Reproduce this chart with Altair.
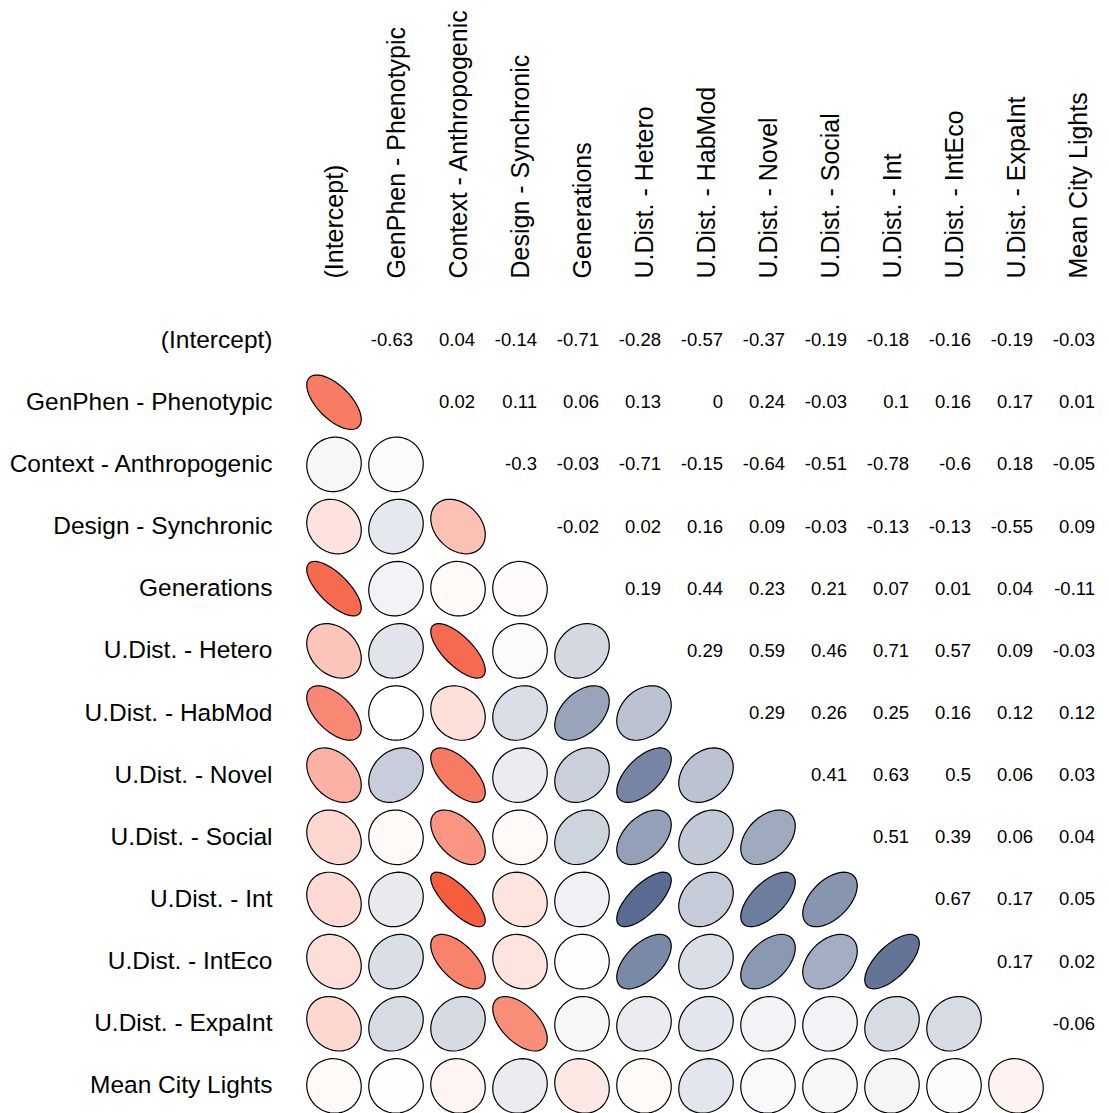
import altair as alt
import numpy as np
import pandas as pd

variables = [
    "(Intercept)", "GenPhen - Phenotypic", "Context - Anthropogenic",
    "Design - Synchronic", "Generations", "U.Dist. - Hetero",
    "U.Dist. - HabMod", "U.Dist. - Novel", "U.Dist. - Social",
    "U.Dist. - Int", "U.Dist. - IntEco", "U.Dist. - ExpaInt",
    "Mean City Lights",
]

# Upper-triangle correlations, row by row (values right of the diagonal)
upper_rows = [
    [-0.63, 0.04, -0.14, -0.71, -0.28, -0.57, -0.37, -0.19, -0.18, -0.16, -0.19, -0.03],
    [0.02, 0.11, 0.06, 0.13, 0, 0.24, -0.03, 0.1, 0.16, 0.17, 0.01],
    [-0.3, -0.03, -0.71, -0.15, -0.64, -0.51, -0.78, -0.6, 0.18, -0.05],
    [-0.02, 0.02, 0.16, 0.09, -0.03, -0.13, -0.13, -0.55, 0.09],
    [0.19, 0.44, 0.23, 0.21, 0.07, 0.01, 0.04, -0.11],
    [0.29, 0.59, 0.46, 0.71, 0.57, 0.09, -0.03],
    [0.29, 0.26, 0.25, 0.16, 0.12, 0.12],
    [0.41, 0.63, 0.5, 0.06, 0.03],
    [0.51, 0.39, 0.06, 0.04],
    [0.67, 0.17, 0.05],
    [0.17, 0.02],
    [-0.06],
]

n = len(variables)
M = np.eye(n)
for i, row in enumerate(upper_rows):
    for k, v in enumerate(row):
        j = i + 1 + k
        M[i, j] = v
        M[j, i] = v


def ellipse_path(r, npts=60):
    d = np.arccos(np.clip(r, -1, 1))
    t = np.linspace(0, 2 * np.pi, npts, endpoint=False)
    xs = np.cos(t + d / 2)
    ys = -np.cos(t - d / 2)
    return "M" + "L".join(f"{x:.4f},{y:.4f}" for x, y in zip(xs, ys)) + "Z"


ell_records, txt_records = [], []
for i in range(n):
    for j in range(n):
        r = float(M[i, j])
        if i > j:
            ell_records.append({"row": variables[i], "col": variables[j], "r": r,
                                "path": ellipse_path(r)})
        elif i < j:
            txt_records.append({"row": variables[i], "col": variables[j], "r": r,
                                "label": f"{r:g}"})

ell_df = pd.DataFrame(ell_records)
txt_df = pd.DataFrame(txt_records)

FONT = "Liberation Sans"

x_enc = alt.X("col:N", sort=variables,
              scale=alt.Scale(domain=variables, paddingInner=0, paddingOuter=0),
              axis=alt.Axis(orient="top", labelAngle=-90, title=None, labelFontSize=25))
y_enc = alt.Y("row:N", sort=variables,
              scale=alt.Scale(domain=variables, paddingInner=0, paddingOuter=0),
              axis=alt.Axis(orient="left", title=None, labelFontSize=24.5))

ellipses = alt.Chart(ell_df).mark_point(
    filled=True, opacity=1, stroke="black", strokeWidth=1.2, size=2970
).encode(
    x=x_enc, y=y_enc,
    shape=alt.Shape("path:N", scale=None),
    fill=alt.Fill("r:Q", legend=None,
                  scale=alt.Scale(domain=[-1, 0, 1],
                                  range=["#F32F09", "#FFFFFF", "#163063"],
                                  interpolate="rgb")),
)

texts = alt.Chart(txt_df).mark_text(
    align="right", baseline="middle", dx=17, fontSize=18.5, font=FONT, color="black"
).encode(
    x=x_enc, y=y_enc,
    text=alt.Text("label:N"),
)

chart = alt.layer(ellipses, texts).properties(
    width=806, height=808,
    padding={"left": 303, "top": 309, "right": 0, "bottom": 0},
    autosize="none",
).configure_view(stroke=None).configure_axis(
    domain=False, ticks=False, grid=False,
    labelFont=FONT, labelColor="black",
    labelPadding=31, labelLimit=500, labelOverlap=False,
)

chart.save("out.html", embed_options={"renderer": "svg", "actions": False})
